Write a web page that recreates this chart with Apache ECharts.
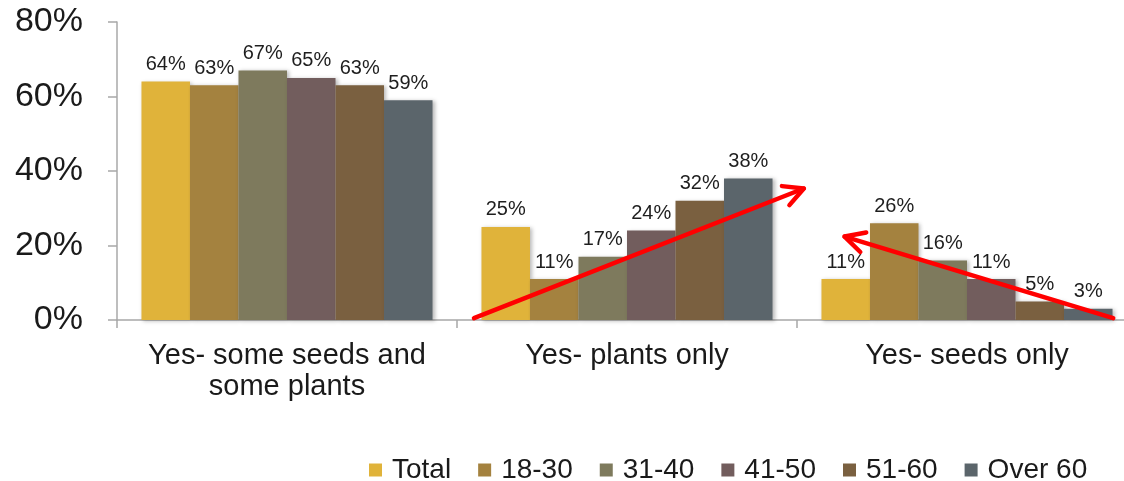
<!DOCTYPE html>
<html>
<head>
<meta charset="utf-8">
<script src="https://cdn.jsdelivr.net/npm/echarts@6/dist/echarts.min.js"></script>
<style>
  html, body { margin: 0; padding: 0; background: #ffffff; }
  #chart { width: 1124px; height: 481px; }
</style>
</head>
<body>
<div id="chart"></div>
<script>
// Survey answers (categories) and the share of respondents per age group
const categories = ['Yes- some seeds and\nsome plants', 'Yes- plants only', 'Yes- seeds only'];
const groupNames = ['Total', '18-30', '31-40', '41-50', '51-60', 'Over 60'];
const total   = [64, 25, 11];
const age1830 = [63, 11, 26];
const age3140 = [67, 17, 16];
const age4150 = [65, 24, 11];
const age5160 = [63, 32, 5];
const over60  = [59, 38, 3];
const yTicks  = [0, 20, 40, 60, 80];

// Trend arrows, in data space: [category index (fractional), percent]
const trendArrows = [
  { from: [0.55, 0.5], to: [1.52, 35.3] },
  { from: [2.43, 0.5], to: [1.64, 22.4] }
];

const groupValues = [total, age1830, age3140, age4150, age5160, over60];
const groupColors = ['#E0B33A', '#A4823F', '#7E7A5D', '#725D5D', '#7A6040', '#5B656B'];

const chart = echarts.init(document.getElementById('chart'), null, { renderer: 'canvas' });

const series = groupNames.map((name, i) => ({
  name: name,
  type: 'bar',
  data: groupValues[i],
  barGap: '0%',
  barCategoryGap: '14.4%',
  itemStyle: {
    color: groupColors[i],
    shadowColor: 'rgba(0,0,0,0.28)',
    shadowBlur: 4,
    shadowOffsetX: 2,
    shadowOffsetY: 1
  },
  label: {
    show: true,
    position: 'top',
    distance: 7,
    formatter: '{c}%',
    color: '#1e1e1e',
    fontSize: 20,
    fontFamily: 'Liberation Sans, Arial, sans-serif'
  },
  emphasis: { disabled: true },
  animation: false
}));

chart.setOption({
  animation: false,
  grid: {
    left: 117, top: 22, width: 1020, height: 298,
    containLabel: false,
    outerBoundsMode: 'none'
  },
  legend: {
    data: groupNames,
    left: 364,
    top: 451,
    itemWidth: 13,
    itemHeight: 13,
    itemGap: 27,
    icon: 'rect',
    textStyle: {
      fontSize: 28,
      color: '#1a1a1a',
      fontFamily: 'Liberation Sans, Arial, sans-serif',
      padding: [0, 0, 0, 5]
    }
  },
  xAxis: {
    type: 'category',
    data: categories,
    axisLine: { lineStyle: { color: '#a8a8a8', width: 1.5 } },
    axisTick: { show: true, length: 8, lineStyle: { color: '#a8a8a8', width: 1.5 } },
    axisLabel: {
      margin: 20,
      color: '#1a1a1a',
      fontSize: 29,
      lineHeight: 31,
      fontFamily: 'Liberation Sans, Arial, sans-serif',
      interval: 0
    }
  },
  yAxis: {
    type: 'value',
    min: yTicks[0],
    max: yTicks[yTicks.length - 1],
    interval: yTicks[1] - yTicks[0],
    splitLine: { show: false },
    axisLine: { show: true, lineStyle: { color: '#a8a8a8', width: 1.5 } },
    axisTick: { show: true, length: 9, lineStyle: { color: '#a8a8a8', width: 1.5 } },
    axisLabel: {
      margin: 34,
      formatter: '{value}%',
      color: '#1a1a1a',
      fontSize: 34,
      fontFamily: 'Liberation Sans, Arial, sans-serif'
    }
  },
  series: series
});

// Draw the red trend arrows on top of the bars, positioned through the axes
function arrowGraphics() {
  const c0 = chart.convertToPixel({ xAxisIndex: 0 }, 0);
  const c1 = chart.convertToPixel({ xAxisIndex: 0 }, 1);
  const step = c1 - c0;
  const toPx = (p) => [c0 + p[0] * step, chart.convertToPixel({ yAxisIndex: 0 }, p[1])];
  const out = [];
  trendArrows.forEach((a) => {
    const s = toPx(a.from);
    const t = toPx(a.to);
    const ang = Math.atan2(t[1] - s[1], t[0] - s[0]);
    const headLen = 22;
    const spread = Math.PI / 6.5;
    const w1 = [t[0] - headLen * Math.cos(ang - spread), t[1] - headLen * Math.sin(ang - spread)];
    const w2 = [t[0] - headLen * Math.cos(ang + spread), t[1] - headLen * Math.sin(ang + spread)];
    const style = { stroke: '#ff0000', lineWidth: 4.5, lineCap: 'round', lineJoin: 'round', fill: null };
    out.push({ type: 'polyline', z: 100, shape: { points: [s, t] }, style: style, silent: true });
    out.push({ type: 'polyline', z: 100, shape: { points: [w1, t, w2] }, style: style, silent: true });
  });
  return out;
}

chart.setOption({ graphic: arrowGraphics() });
</script>
</body>
</html>
